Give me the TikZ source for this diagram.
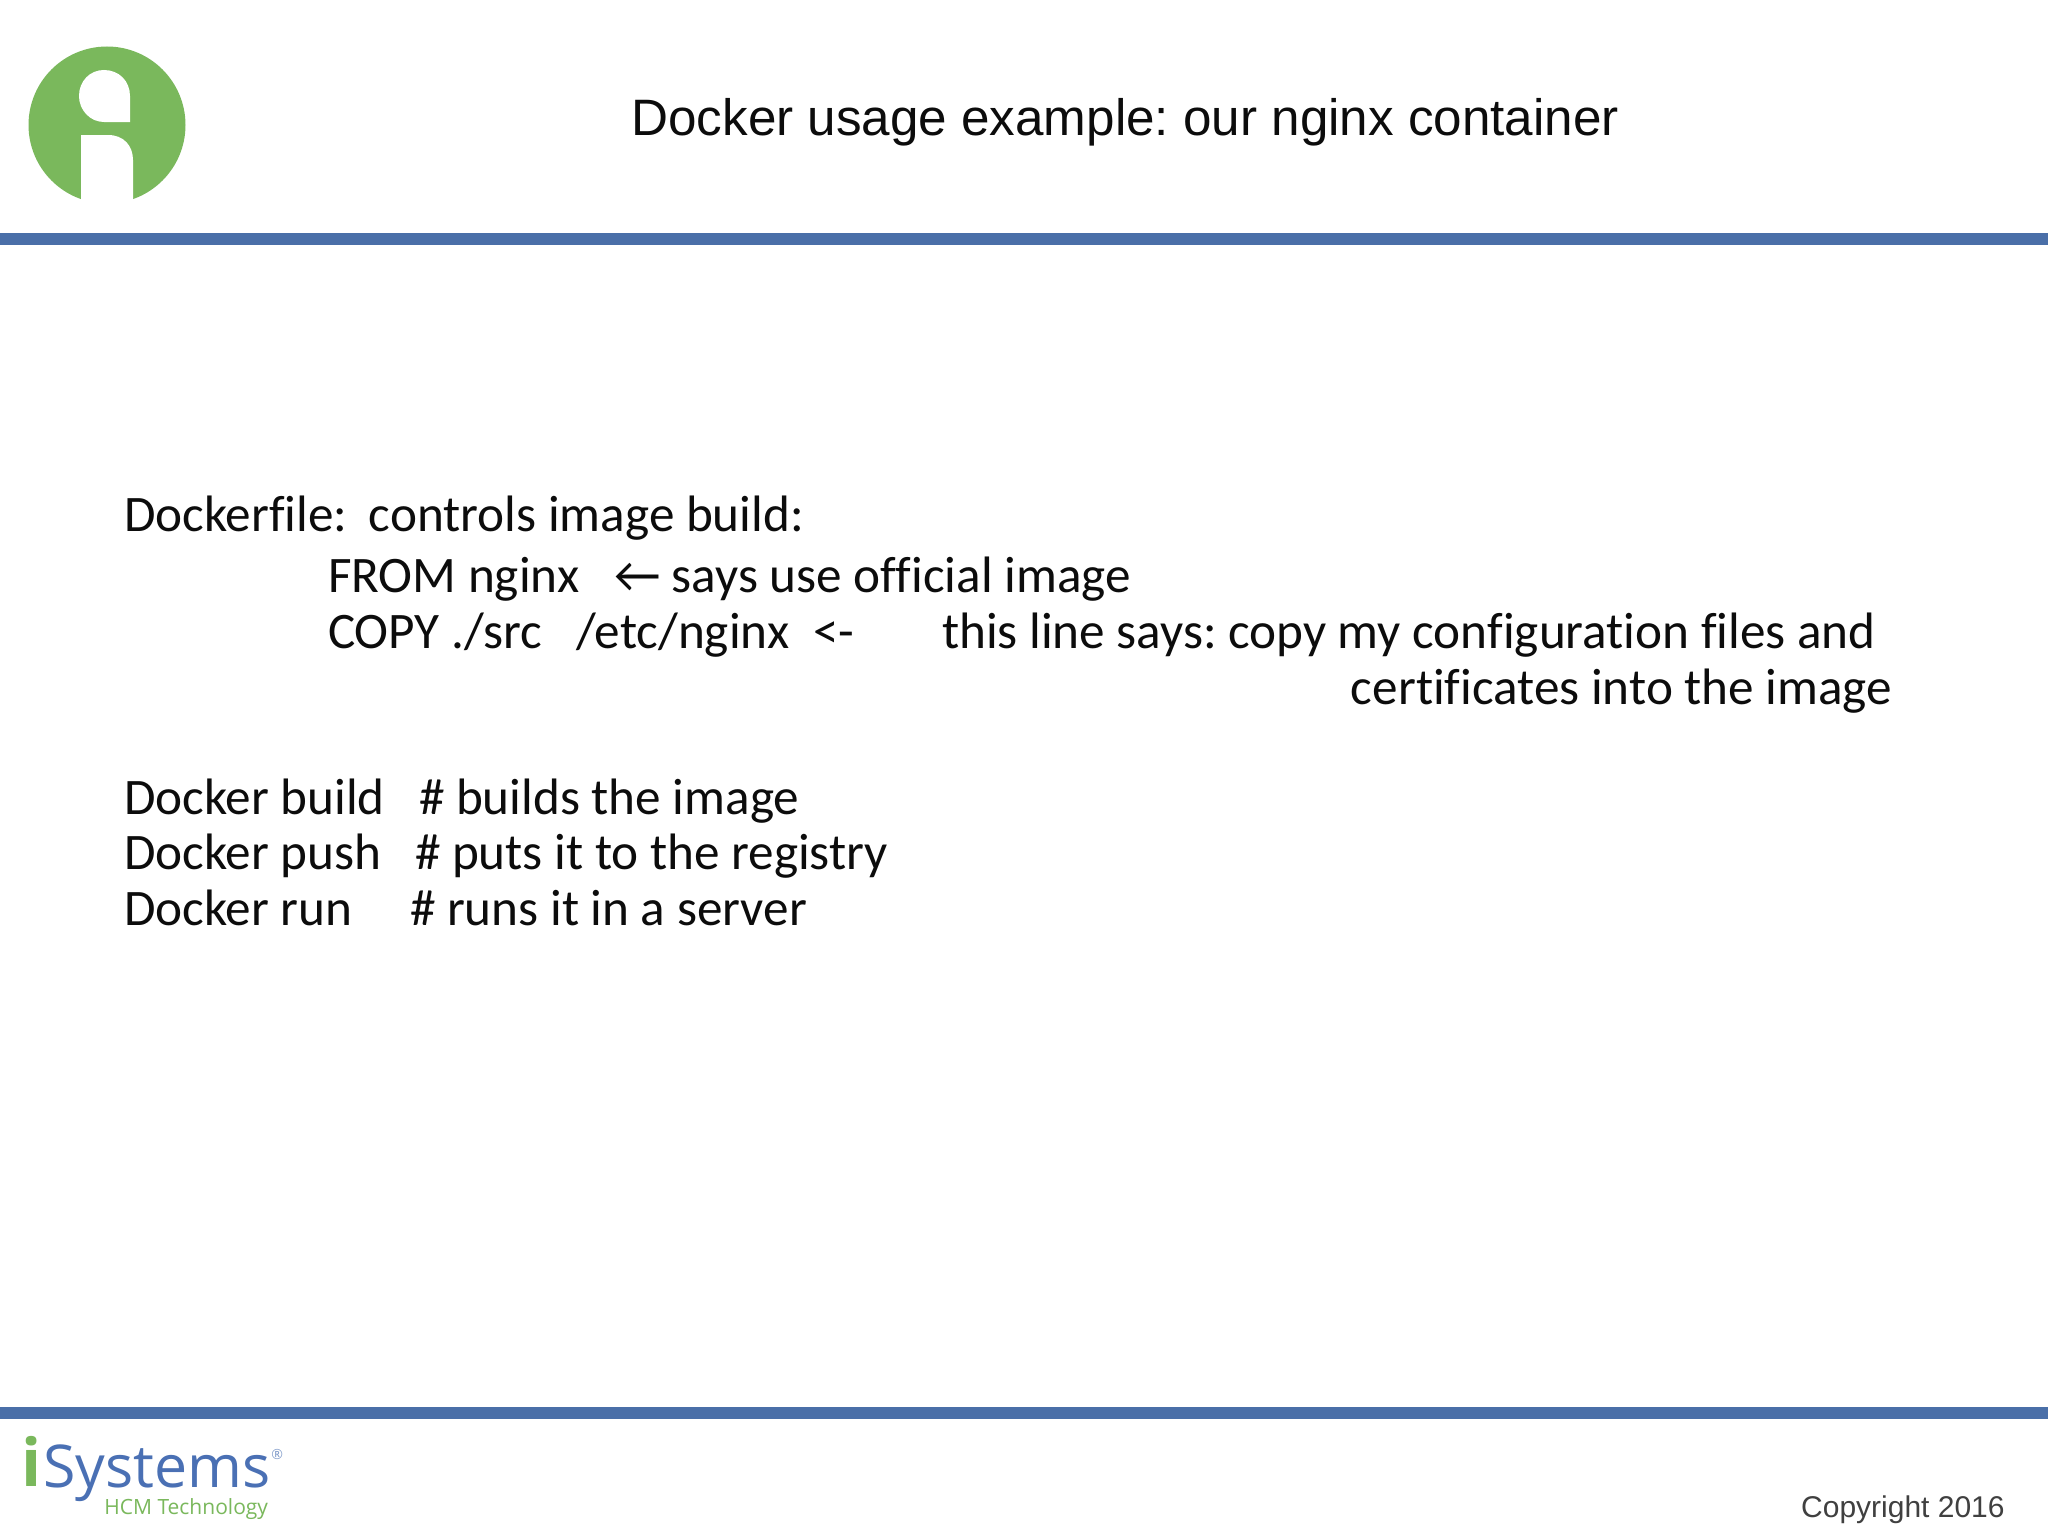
\documentclass[tikz,border=0pt]{standalone}
\usepackage{fontspec}
\setmainfont[Ligatures=CommonOff]{Carlito}
\newfontfamily\arialf{Liberation Sans}
\newfontfamily\logof{Open Sans}
\definecolor{barblue}{HTML}{4A6FA8}
\definecolor{logogreen}{HTML}{7AB85C}
\definecolor{logoblue}{HTML}{4A70B4}
\definecolor{txt}{HTML}{0C0C0C}
\tikzset{
  body/.style={anchor=base west,inner sep=0pt,outer sep=0pt,text=txt,font=\fontsize{25.6}{30}\selectfont},
  bar/.style={fill=barblue,draw=none},
  ttl/.style={anchor=base west,inner sep=0pt,text=txt,font=\arialf\fontsize{25.6}{28}\selectfont}
}
\begin{document}
\frenchspacing
\begin{tikzpicture}[x=0.5pt,y=-0.5pt]
\useasboundingbox (0,0) rectangle (2048,1536);
\fill[white] (0,0) rectangle (2048,1536);
% header and footer bars
\fill[bar] (0,232.5) rectangle (2048,244.5);
\fill[bar] (0,1407) rectangle (2048,1419);
% round logo
\fill[logogreen] (107,125) circle (78.5);
\fill[white] (81,135) -- (108,135) .. controls (124,135) and (133,146) .. (133,160) -- (133,210) -- (81,210) -- cycle;
\fill[white] (130,122) -- (104,122) .. controls (90,122) and (79,110) .. (79,96) .. controls (79,81) and (90,70) .. (104,70) .. controls (119,70) and (130,81) .. (130,96) -- cycle;
% title
\node[ttl] (title) at (631,135) {Docker usage example: our nginx container};
% body
\node[body] (l1) at (124,531) {Dockerfile:\hspace{5pt} controls image build:};
\node[body] (l2a) at (328,592) {FROM nginx};
\node[body] (l2b) at (614,592) {← says use official image};
\node[body] (l3a) at (328,648) {COPY ./src};
\node[body] (l3b) at (576,648) {/etc/nginx};
\node[body] (l3c) at (813,648) {<-};
\node[body] (l3d) at (942,648) {this line says: copy my configuration files and};
\node[body,anchor=base east] (l4) at (1892,704) {certificates into the image};
\node[body] (l5a) at (124,814) {Docker build};
\node[body] (l5b) at (419,814) {\# builds the image};
\node[body] (l6a) at (124,869) {Docker push};
\node[body] (l6b) at (415,869) {\# puts it to the registry};
\node[body] (l7a) at (124,925) {Docker run};
\node[body] (l7b) at (410,925) {\# runs it in a server};
% footer logo
\node[anchor=base west,inner sep=0pt,text=logogreen,font=\logof\bfseries\fontsize{33}{36}\selectfont] (logoi) at (21,1486) {i};
\node[anchor=base west,inner sep=0pt,text=logoblue,font=\logof\fontsize{29.5}{36}\selectfont] (logos) at (43,1487) {Systems};
\node[anchor=base west,inner sep=0pt,text=logoblue!70,font=\logof\fontsize{7}{8}\selectfont] (logor) at (271,1459) {®};
\node[anchor=base west,inner sep=0pt,text=logogreen,font=\logof\fontsize{10.5}{12}\selectfont] (logoh) at (104,1514) {HCM Technology};
\node[anchor=base east,inner sep=0pt,text=black!75,font=\arialf\fontsize{15}{18}\selectfont] (copy) at (2005,1517) {Copyright 2016};
\end{tikzpicture}
\end{document}
